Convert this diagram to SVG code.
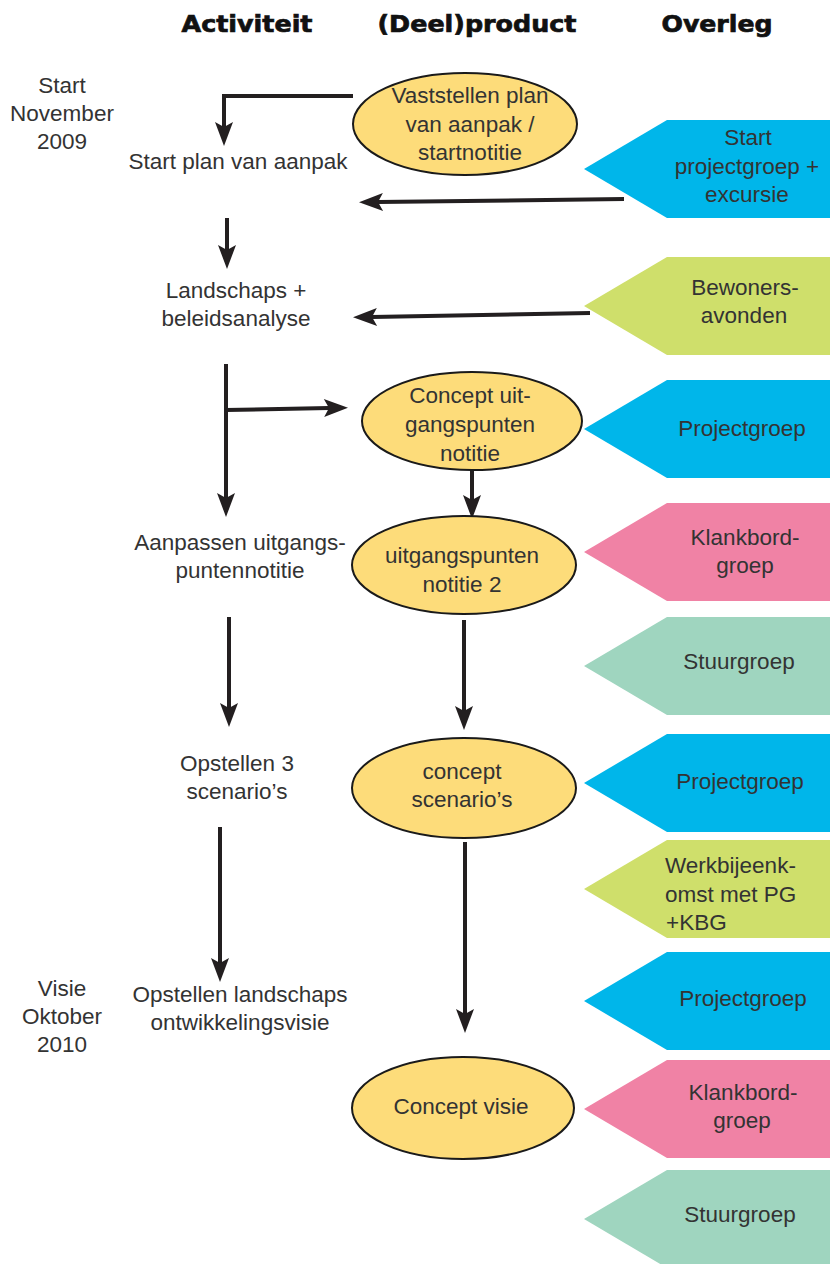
<svg xmlns="http://www.w3.org/2000/svg" width="830" height="1264" viewBox="0 0 830 1264">
<style>
.hd{font-family:"DejaVu Sans","Liberation Sans",Arial,sans-serif;font-weight:bold;font-size:23px;fill:#111;stroke:#111;stroke-width:0.7;text-anchor:middle}
.t{font-family:"Liberation Sans",Arial,sans-serif;font-size:22.5px;fill:#333;text-anchor:middle}
.l{text-anchor:start}
.el{fill:#fddc7a;stroke:#1a1a1a;stroke-width:2}
.blue{fill:#00b6ea}.green{fill:#cfdf6b}.pink{fill:#f082a5}.mint{fill:#9fd5bf}
.ar{fill:none;stroke:#231f20;stroke-width:4;marker-end:url(#ah)}
</style>
<defs>
<marker id="ah" markerUnits="userSpaceOnUse" markerWidth="30" markerHeight="24" viewBox="0 -12 30 24" refX="5" refY="0" orient="auto" overflow="visible">
<path d="M0,-9 L24,0 L0,9 L5,0 Z" fill="#231f20"/>
</marker>
<path id="pent" d="M0,49 L83,0 L246,0 L246,98 L83,98 Z"/>
</defs>
<rect width="830" height="1264" fill="#fff"/>
<g id="headers">
<text class="hd" x="247" y="32" textLength="131" lengthAdjust="spacingAndGlyphs">Activiteit</text>
<text class="hd" x="477" y="32" textLength="199" lengthAdjust="spacingAndGlyphs">(Deel)product</text>
<text class="hd" x="717" y="32" textLength="111" lengthAdjust="spacingAndGlyphs">Overleg</text>
</g>
<g id="connectors">
<path class="ar" d="M353,96 H224 V127"/>
<path class="ar" d="M227,218 V250"/>
<path class="ar" d="M624,199 L378,202"/>
<path class="ar" d="M590,313 L372,317"/>
<path class="ar" d="M226,364 V498"/>
<path class="ar" d="M226,410 L329,408"/>
<path class="ar" d="M472,470 V500"/>
<path class="ar" d="M229,617 V708"/>
<path class="ar" d="M464,620 V711"/>
<path class="ar" d="M220,827 V963"/>
<path class="ar" d="M465,842 V1014"/>
</g>
<g id="dates">
<text class="t" x="62" y="93">Start</text>
<text class="t" x="62" y="121">November</text>
<text class="t" x="62" y="149">2009</text>
<text class="t" x="62" y="996">Visie</text>
<text class="t" x="62" y="1024">Oktober</text>
<text class="t" x="62" y="1052">2010</text>
</g>
<g id="act1"><text class="t" x="238" y="169">Start plan van aanpak</text></g>
<g id="act2"><text class="t" x="236" y="298">Landschaps +</text><text class="t" x="236" y="326">beleidsanalyse</text></g>
<g id="act3"><text class="t" x="240" y="550">Aanpassen uitgangs-</text><text class="t" x="240" y="578">puntennotitie</text></g>
<g id="act4"><text class="t" x="237" y="771">Opstellen 3</text><text class="t" x="237" y="799">scenario’s</text></g>
<g id="act5"><text class="t" x="240" y="1002">Opstellen landschaps</text><text class="t" x="240" y="1030">ontwikkelingsvisie</text></g>
<g id="prod1"><ellipse class="el" cx="465" cy="124" rx="112" ry="51"/>
<text class="t" x="470" y="103">Vaststellen plan</text><text class="t" x="470" y="132">van aanpak /</text><text class="t" x="470" y="160">startnotitie</text></g>
<g id="prod2"><ellipse class="el" cx="472" cy="421" rx="110" ry="49"/>
<text class="t" x="470" y="403">Concept uit-</text><text class="t" x="470" y="432">gangspunten</text><text class="t" x="470" y="461">notitie</text></g>
<g id="prod3"><ellipse class="el" cx="464" cy="565" rx="112" ry="49"/>
<text class="t" x="462" y="563">uitgangspunten</text><text class="t" x="462" y="592">notitie 2</text></g>
<g id="prod4"><ellipse class="el" cx="464" cy="788" rx="112" ry="50"/>
<text class="t" x="462" y="779">concept</text><text class="t" x="462" y="807">scenario’s</text></g>
<g id="prod5"><ellipse class="el" cx="463" cy="1108" rx="111" ry="51"/>
<text class="t" x="461" y="1114">Concept visie</text></g>
<g id="ov1"><use href="#pent" class="blue" x="584" y="120"/>
<text class="t" x="748" y="145">Start</text><text class="t" x="747" y="174">projectgroep +</text><text class="t" x="747" y="202">excursie</text></g>
<g id="ov2"><use href="#pent" class="green" x="584" y="257"/>
<text class="t" x="745" y="295">Bewoners-</text><text class="t" x="744" y="323">avonden</text></g>
<g id="ov3"><use href="#pent" class="blue" x="584" y="380"/>
<text class="t" x="742" y="436">Projectgroep</text></g>
<g id="ov4"><use href="#pent" class="pink" x="584" y="503"/>
<text class="t" x="745" y="545">Klankbord-</text><text class="t" x="745" y="573">groep</text></g>
<g id="ov5"><use href="#pent" class="mint" x="584" y="617"/>
<text class="t" x="739" y="669">Stuurgroep</text></g>
<g id="ov6"><use href="#pent" class="blue" x="584" y="734"/>
<text class="t" x="740" y="789">Projectgroep</text></g>
<g id="ov7"><use href="#pent" class="green" x="584" y="840"/>
<text class="t l" x="665" y="873">Werkbijeenk-</text><text class="t l" x="665" y="902">omst met PG</text><text class="t l" x="666" y="930">+KBG</text></g>
<g id="ov8"><use href="#pent" class="blue" x="584" y="952"/>
<text class="t" x="743" y="1006">Projectgroep</text></g>
<g id="ov9"><use href="#pent" class="pink" x="584" y="1060"/>
<text class="t" x="743" y="1100">Klankbord-</text><text class="t" x="742" y="1128">groep</text></g>
<g id="ov10"><use href="#pent" class="mint" x="584" y="1170"/>
<text class="t" x="740" y="1222">Stuurgroep</text></g>
</svg>
